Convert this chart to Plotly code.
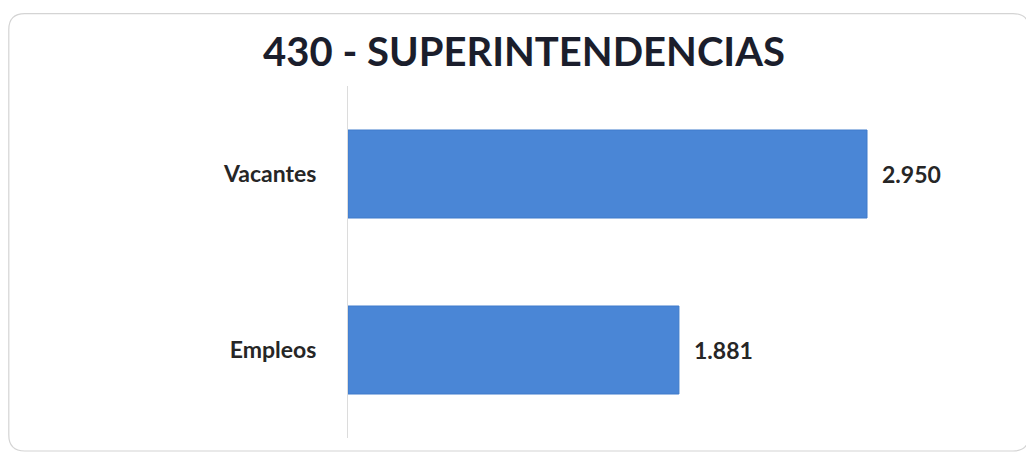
import plotly.graph_objects as go

categories = ["Vacantes", "Empleos"]
values = [2950, 1881]
title_text = "430 - SUPERINTENDENCIAS"

# the page places the figure 8px in from the top-left corner
O = 8
W, H = 1034, 454
plot_left, plot_right, plot_top, plot_bottom = 348 - O, 1000 - O, 85.5 - O, 438 - O
ml, mr = plot_left, W - plot_right
mt, mb = plot_top, H - plot_bottom

fig = go.Figure()
fig.add_trace(go.Bar(
    y=categories, x=values, orientation="h",
    marker=dict(color="#4a86d6", line=dict(color="#3f7bcb", width=1)),
    width=0.5, hoverinfo="skip", showlegend=False,
))

for c, v in zip(categories, values):
    fig.add_annotation(
        x=v, y=c, xref="x", yref="y", text=f"{v:,}".replace(",", "."),
        showarrow=False, xanchor="left", xshift=13,
        font=dict(family="Lato", size=23, color="#262626", weight="bold"),
    )

# rounded frame in paper coordinates (figure pixel coords converted)
pw, ph = W - ml - mr, H - mt - mb
def px(x): return (x - ml) / pw
def py(y): return (H - mb - y) / ph
x0, x1, y0, y1, r = 8 - O + 0.8, 1029 - O, 13 - O, 451 - O, 16
path = (f"M {px(x0+r)},{py(y0)} L {px(x1-r)},{py(y0)} Q {px(x1)},{py(y0)} {px(x1)},{py(y0+r)} "
        f"L {px(x1)},{py(y1-r)} Q {px(x1)},{py(y1)} {px(x1-r)},{py(y1)} "
        f"L {px(x0+r)},{py(y1)} Q {px(x0)},{py(y1)} {px(x0)},{py(y1-r)} "
        f"L {px(x0)},{py(y0+r)} Q {px(x0)},{py(y0)} {px(x0+r)},{py(y0)} Z")
fig.add_shape(type="path", path=path, xref="paper", yref="paper",
              line=dict(color="#d4d4d4", width=1.2), layer="below")

fig.update_layout(
    width=W, height=H,
    margin=dict(l=ml, r=mr, t=mt, b=mb),
    paper_bgcolor="white", plot_bgcolor="white",
    title=dict(text=title_text, x=(524 - O) / W, xref="container", xanchor="center",
               y=1 - (52 - O) / H, yanchor="middle",
               font=dict(family="Lato", size=40, color="#1b1e2c", weight="bold")),
    xaxis=dict(range=[0, pw / (519 / 2950)], showgrid=False, zeroline=False,
               showticklabels=False, showline=False, fixedrange=True),
    yaxis=dict(categoryorder="array", categoryarray=categories[::-1],
               range=[-0.5, 1.5], showgrid=False, zeroline=False,
               showline=True, linecolor="#dcdcdc", linewidth=1,
               ticks="", ticklabelstandoff=26,
               tickfont=dict(family="Lato", size=23, color="#262626", weight="bold")),
    bargap=0.5,
)

fig.write_html("out.html")
